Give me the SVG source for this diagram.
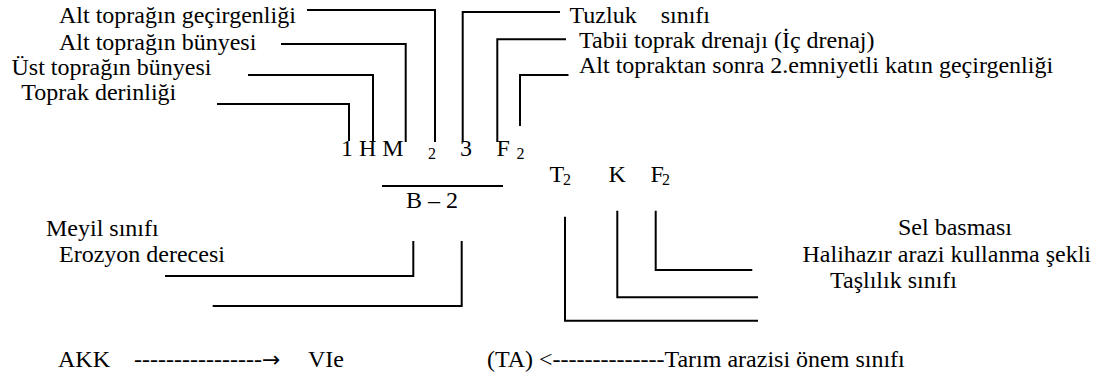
<svg xmlns="http://www.w3.org/2000/svg" width="1101" height="380" viewBox="0 0 1101 380">
<style>
text{font-family:"Liberation Serif","Times New Roman",serif;font-size:24px;fill:#000}
.sub{font-size:16px}
.arr{font-family:"DejaVu Sans",sans-serif;font-size:22px}
.c{fill:none;stroke:#000;stroke-width:2;stroke-linejoin:miter;stroke-linecap:butt}
</style>
<rect width="1101" height="380" fill="#fff"/>
<g id="connectors">
<path class="c" d="M307,10 H435 V142"/>
<path class="c" d="M281,44 H405.7 V142"/>
<path class="c" d="M248,75 H373 V141"/>
<path class="c" d="M217,104 H349 V141"/>
<path class="c" d="M560,12 H462.7 V142"/>
<path class="c" d="M566,39.3 H497.3 V142"/>
<path class="c" d="M568.5,75 H520 V126"/>
<path class="c" d="M413.3,241 V276 H165"/>
<path class="c" d="M461.7,241 V306 H212.7"/>
<path class="c" d="M565,216.7 V320.7 H758"/>
<path class="c" d="M617.3,210.7 V297.3 H758"/>
<path class="c" d="M655.7,210.7 V270 H752.3"/>
</g>
<g id="lbl-alt-gecirgenlik"><text x="59" y="22.5">Alt toprağın geçirgenliği</text></g>
<g id="lbl-alt-bunye"><text x="59" y="49.5">Alt toprağın bünyesi</text></g>
<g id="lbl-ust-bunye"><text x="11.5" y="75">Üst toprağın bünyesi</text></g>
<g id="lbl-derinlik"><text x="21.3" y="100">Toprak derinliği</text></g>
<g id="lbl-tuzluk"><text x="569.5" y="22.5" xml:space="preserve">Tuzluk    sınıfı</text></g>
<g id="lbl-drenaj"><text x="579" y="47.5">Tabii toprak drenajı (İç drenaj)</text></g>
<g id="lbl-emniyetli"><text x="579" y="72.5">Alt topraktan sonra 2.emniyetli katın geçirgenliği</text></g>
<g id="formula">
<text x="341" y="156" xml:space="preserve">1 H M</text>
<text class="sub" x="428" y="159">2</text>
<text x="460" y="156">3</text>
<text x="496.5" y="156">F</text>
<text class="sub" x="516.5" y="159">2</text>
<path class="c" d="M382,186 H503"/>
<text x="406" y="208" xml:space="preserve">B – 2</text>
</g>
<g id="formula-right">
<text x="549.5" y="182">T</text>
<text class="sub" x="563" y="185">2</text>
<text x="608.5" y="182">K</text>
<text x="650.5" y="182">F</text>
<text class="sub" x="662" y="185">2</text>
</g>
<g id="lbl-meyil"><text x="46" y="236">Meyil sınıfı</text></g>
<g id="lbl-erozyon"><text x="59" y="262">Erozyon derecesi</text></g>
<g id="lbl-sel"><text x="898" y="235">Sel basması</text></g>
<g id="lbl-halihazir"><text x="802.5" y="262">Halihazır arazi kullanma şekli</text></g>
<g id="lbl-taslilik"><text x="830" y="288">Taşlılık sınıfı</text></g>
<g id="akk"><text x="58" y="367" xml:space="preserve">AKK    ----------------<tspan class="arr">→</tspan></text></g>
<g id="vie"><text x="308" y="367">VIe</text></g>
<g id="ta"><text x="487" y="367" xml:space="preserve">(TA) &lt;--------------Tarım arazisi önem sınıfı</text></g>
</svg>
